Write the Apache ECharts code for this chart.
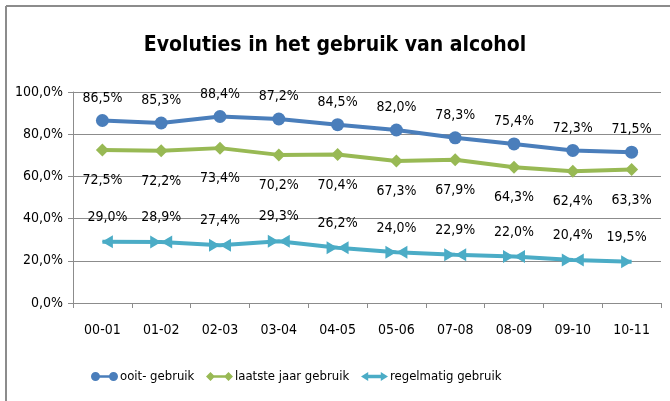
<!DOCTYPE html>
<html>
<head>
<meta charset="utf-8">
<script src="https://cdn.jsdelivr.net/npm/echarts@6/dist/echarts.min.js"></script>
<style>html,body{margin:0;padding:0;background:#fff}#c{width:670px;height:401px}</style>
</head>
<body>
<div id="c"></div>
<script>
const titleText = 'Evoluties in het gebruik van alcohol';
const categories = ['00-01','01-02','02-03','03-04','04-05','05-06','07-08','08-09','09-10','10-11'];
const seriesNames = ['ooit- gebruik','laatste jaar gebruik','regelmatig gebruik'];
const ooit = [86.5,85.3,88.4,87.2,84.5,82.0,78.3,75.4,72.3,71.5];
const laatsteJaar = [72.5,72.2,73.4,70.2,70.4,67.3,67.9,64.3,62.4,63.3];
const regelmatig = [29.0,28.9,27.4,29.3,26.2,24.0,22.9,22.0,20.4,19.5];
const yTicks = [0,20,40,60,80,100];

const FONT = "'Liberation Sans Narrow','DejaVu Sans Condensed','Liberation Sans',sans-serif";
const fmt = v => v.toFixed(1).replace('.', ',') + '%';

const bowtie = 'path://M0,0 L10,5 L0,10 Z M20,0 L10,5 L20,10 Z';
const leftHead = 'path://M0,5 L10,0 L10,10 Z';
const rightHead = 'path://M0,0 L10,5 L0,10 Z';
const cyanData = regelmatig.map((v, i) => {
  if (i === 0) return {value: v, symbol: leftHead, symbolSize: [11, 13], symbolOffset: [5, 0]};
  if (i === regelmatig.length - 1) return {value: v, symbol: rightHead, symbolSize: [11, 13], symbolOffset: [-5, 0]};
  return {value: v, symbol: bowtie, symbolSize: [22, 13]};
});

const legendIcons = [
  'path://M5,0 A5,5 0 1 1 5,10 A5,5 0 1 1 5,0 Z M5,3.5 L25,3.5 L25,6.5 L5,6.5 Z M25,0 A5,5 0 1 1 25,10 A5,5 0 1 1 25,0 Z',
  'path://M0,5 L5,0 L10,5 L5,10 Z M5,3.5 L25,3.5 L25,6.5 L5,6.5 Z M20,5 L25,0 L30,5 L25,10 Z',
  'path://M0,5 L8,0 L8,3 L22,3 L22,0 L30,5 L22,10 L22,7 L8,7 L8,10 Z'
];
const legendLefts = [86, 201, 356];

const chart = echarts.init(document.getElementById('c'), null, {renderer: 'canvas'});
const labelStyle = {show: true, formatter: p => fmt(p.value), color: '#000', fontFamily: FONT, fontSize: 14};
chart.setOption({
  animation: false,
  backgroundColor: '#fff',
  title: {text: titleText, left: 'center', top: 30,
    textStyle: {fontFamily: FONT, fontSize: 21, fontWeight: 'bold', color: '#000'}},
  graphic: [
    {type: 'line', shape: {x1: 6, y1: 6, x2: 670, y2: 6}, style: {stroke: '#8c8c8c', lineWidth: 2}},
    {type: 'line', shape: {x1: 6, y1: 6, x2: 6, y2: 401}, style: {stroke: '#8c8c8c', lineWidth: 2}}
  ],
  grid: {left: 73, right: 9, top: 92, bottom: 98},
  legend: seriesNames.map((n, i) => ({
    left: legendLefts[i], top: 365, itemWidth: 27, itemHeight: 11,
    textStyle: {fontFamily: FONT, fontSize: 13, color: '#000', padding: [0, 0, 0, -3]},
    data: [{name: n, icon: legendIcons[i]}]
  })),
  xAxis: {
    type: 'category', data: categories, boundaryGap: true,
    axisLine: {lineStyle: {color: '#8c8c8c', width: 1}},
    axisTick: {show: true, length: 5, lineStyle: {color: '#8c8c8c'}},
    axisLabel: {margin: 20, fontFamily: FONT, fontSize: 14, color: '#000'}
  },
  yAxis: {
    type: 'value', min: 0, max: 100, interval: 20,
    axisLine: {show: true, lineStyle: {color: '#8c8c8c'}},
    axisTick: {show: true, length: 5, lineStyle: {color: '#8c8c8c'}},
    splitLine: {lineStyle: {color: '#8c8c8c', width: 1}},
    axisLabel: {margin: 10, fontFamily: FONT, fontSize: 14, color: '#000',
      formatter: v => yTicks.includes(v) ? fmt(v) : ''}
  },
  series: [
    {name: seriesNames[0], type: 'line', data: ooit, symbol: 'circle', symbolSize: 13,
      lineStyle: {color: '#4a7ebb', width: 4}, itemStyle: {color: '#4a7ebb'},
      label: Object.assign({}, labelStyle, {position: 'top', distance: 9})},
    {name: seriesNames[1], type: 'line', data: laatsteJaar, symbol: 'diamond', symbolSize: 13,
      lineStyle: {color: '#98b954', width: 4}, itemStyle: {color: '#98b954'},
      label: Object.assign({}, labelStyle, {position: 'bottom', distance: 17})},
    {name: seriesNames[2], type: 'line', data: cyanData, symbol: bowtie, symbolSize: [22, 13],
      lineStyle: {color: '#4bacc6', width: 4}, itemStyle: {color: '#4bacc6'},
      label: Object.assign({}, labelStyle, {position: 'top', distance: 11})}
  ]
});
</script>
</body>
</html>
